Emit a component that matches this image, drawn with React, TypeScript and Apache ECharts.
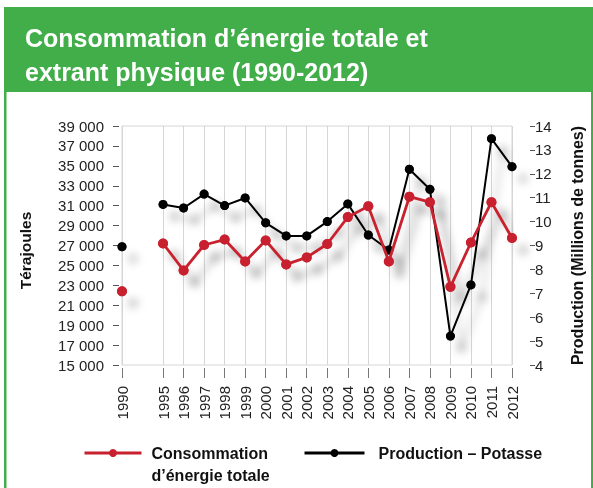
import React, { useEffect, useRef } from "react";
import * as echarts from "echarts";

const years = ["1990", "", "1995", "1996", "1997", "1998", "1999", "2000", "2001", "2002", "2003", "2004", "2005", "2006", "2007", "2008", "2009", "2010", "2011", "2012"];
const consumption = [22400, null, 27200, 24500, 27050, 27600, 25400, 27500, 25100, 25800, 27150, 29850, 30950, 25400, 31900, 31350, 22850, 27300, 31350, 27750];
const production = [8.95, null, 10.72, 10.57, 11.15, 10.67, 10.99, 9.95, 9.4, 9.4, 10.0, 10.74, 9.44, 8.81, 12.19, 11.35, 5.21, 7.35, 13.47, 12.3];
const leftTicks = [15000, 17000, 19000, 21000, 23000, 25000, 27000, 29000, 31000, 33000, 35000, 37000, 39000];

const consName = "Consommation\nd’énergie totale";
const prodName = "Production – Potasse";
const FONT = "'Liberation Sans', Arial, sans-serif";
const RED = "#c8202e";
const GREEN = "#42ae4a";
// circle of radius 5 inside a wide (invisible) 80x80 bounding box, so the drop shadow is not clipped
const DOT = "path://M-40,-40M0,-5A5,5,0,1,1,0,5A5,5,0,1,1,0,-5ZM40,40";

const fmt = (v: number) => String(v).replace(/\B(?=(\d{3})+(?!\d))/g, " ");

export default function App() {
  const ref = useRef<HTMLDivElement>(null);
  useEffect(() => {
    const chart = echarts.init(ref.current!, null, { renderer: "svg" });
    const shadow = { shadowColor: "rgba(0,0,0,0.28)", shadowBlur: 9, shadowOffsetX: 11, shadowOffsetY: 12 };
    chart.setOption({
      animation: false,
      textStyle: { fontFamily: FONT },
      title: {
        text: "Consommation d’énergie totale et\nextrant physique (1990-2012)",
        left: 25,
        top: 21,
        padding: 0,
        textStyle: { color: "#fff", fontSize: 25, fontWeight: "bold", lineHeight: 34, fontFamily: FONT },
      },
      graphic: [
        { type: "rect", left: 4, top: 7, shape: { width: 589, height: 85 }, style: { fill: GREEN }, z: -1 },
        { type: "rect", left: 4, top: 92, shape: { width: 2.5, height: 396 }, style: { fill: GREEN }, z: -1 },
        { type: "rect", left: 591, top: 92, shape: { width: 2, height: 396 }, style: { fill: GREEN }, z: -1 },
      ],
      legend: [
        {
          data: [consName],
          formatter: (n: string) => "\n" + n,
          left: 83,
          top: 420,
          padding: 0,
          itemWidth: 57,
          itemHeight: 10,
          lineStyle: { width: 3 },
          textStyle: { fontSize: 16, fontWeight: "bold", color: "#111", lineHeight: 22, fontFamily: FONT, padding: [0, 0, 0, 5] },
        },
        {
          data: [prodName],
          left: 303,
          top: 442,
          padding: 0,
          itemWidth: 60,
          itemHeight: 10,
          lineStyle: { width: 3 },
          textStyle: { fontSize: 16, fontWeight: "bold", color: "#111", lineHeight: 22, fontFamily: FONT, padding: [0, 0, 0, 9] },
        },
      ],
      grid: { left: 122, right: 81, top: 126, bottom: 123, show: true, borderColor: "#d6d6d6", borderWidth: 1, outerBoundsMode: "none" },
      xAxis: {
        type: "category",
        data: years,
        boundaryGap: false,
        offset: 3,
        axisLine: { show: false },
        axisTick: { show: true, length: 10, interval: (_i: number, v: string) => v !== "", lineStyle: { color: "#777" } },
        axisLabel: { rotate: 90, margin: 18, fontSize: 15, color: "#222", interval: 0, fontFamily: FONT },
        splitLine: { show: true, interval: (_i: number, v: string) => v !== "", lineStyle: { color: "#d6d6d6", width: 1 } },
      },
      yAxis: [
        {
          type: "value",
          min: 15000,
          max: 39000,
          offset: 3,
          name: "Térajoules",
          nameLocation: "middle",
          nameGap: 86,
          nameTextStyle: { fontSize: 15.5, fontWeight: "bold", color: "#111", fontFamily: FONT, padding: [0, 10, 0, 0] },
          axisLine: { show: false },
          axisTick: { show: true, length: 6, customValues: leftTicks, lineStyle: { color: "#555" } },
          axisLabel: { customValues: leftTicks, formatter: fmt, margin: 15, fontSize: 15, color: "#222", fontFamily: FONT },
          splitLine: { show: false },
        },
        {
          type: "value",
          min: 4,
          max: 14,
          interval: 1,
          position: "right",
          offset: 18,
          name: "Production (Millions de tonnes)",
          nameLocation: "middle",
          nameGap: 39,
          nameTextStyle: { fontSize: 16, fontWeight: "bold", color: "#111", fontFamily: FONT },
          axisLine: { show: false },
          axisTick: { show: true, length: 5, lineStyle: { color: "#555" } },
          axisLabel: { margin: 5, fontSize: 15, color: "#222", fontFamily: FONT },
          splitLine: { show: false },
        },
      ],
      series: [
        {
          name: "production-shadow",
          type: "scatter",
          yAxisIndex: 1,
          data: production,
          symbol: DOT,
          symbolKeepAspect: true,
          symbolSize: 72,
          silent: true,
          itemStyle: { color: "#000", ...shadow },
          z: 1,
        },
        {
          name: "consumption-shadow",
          type: "scatter",
          yAxisIndex: 0,
          data: consumption,
          symbol: DOT,
          symbolKeepAspect: true,
          symbolSize: 80,
          silent: true,
          itemStyle: { color: RED, ...shadow },
          z: 1,
        },
        {
          name: prodName,
          type: "line",
          yAxisIndex: 1,
          data: production,
          symbol: "circle",
          symbolSize: 9,
          connectNulls: false,
          lineStyle: { color: "#000", width: 2, ...shadow },
          itemStyle: { color: "#000" },
          z: 2,
        },
        {
          name: consName,
          type: "line",
          yAxisIndex: 0,
          data: consumption,
          symbol: "circle",
          symbolSize: 10,
          connectNulls: false,
          lineStyle: { color: RED, width: 2.8, ...shadow },
          itemStyle: { color: RED },
          z: 3,
        },
      ],
    });
    return () => chart.dispose();
  }, []);
  return <div ref={ref} style={{ position: "fixed", left: 0, top: 0, width: 593, height: 488 }} />;
}
